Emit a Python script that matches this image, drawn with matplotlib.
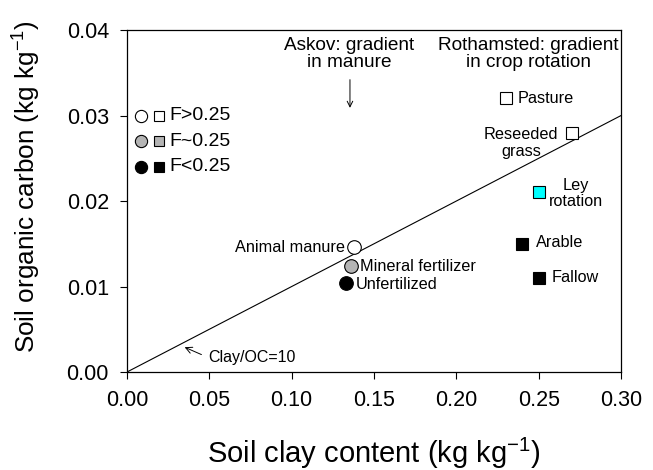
import matplotlib
matplotlib.use("Agg")
import matplotlib.pyplot as plt
import numpy as np

plt.rcParams["font.family"] = ["Liberation Sans", "DejaVu Sans"]

# Askov: gradient in manure (circles)
askov_names = ["Animal manure", "Mineral fertilizer", "Unfertilized"]
askov_clay = [0.138, 0.136, 0.133]
askov_oc = [0.0146, 0.0124, 0.0104]
askov_fill = ["white", "#b4b4b4", "black"]

# Rothamsted: gradient in crop rotation (squares)
roth_names = ["Pasture", "Reseeded\ngrass", "Ley\nrotation", "Arable", "Fallow"]
roth_clay = [0.23, 0.27, 0.25, 0.24, 0.25]
roth_oc = [0.032, 0.028, 0.021, 0.015, 0.011]
roth_fill = ["white", "white", "cyan", "black", "black"]

# key in upper left
key_labels = ["F>0.25", "F~0.25", "F<0.25"]
key_fill = ["white", "#b4b4b4", "black"]
key_oc = [0.030, 0.027, 0.024]

fig = plt.figure(figsize=(6.53, 4.70), dpi=100)
ax = fig.add_axes([0.1945, 0.2085, 0.7565, 0.7275])

# Clay/OC = 10 line
line_x = np.array([0.0, 0.30])
ax.plot(line_x, line_x / 10, color="black", lw=0.8, zorder=1)

for x, y, c in zip(askov_clay, askov_oc, askov_fill):
    ax.plot(x, y, "o", ms=9.8, mfc=c, mec="black", mew=0.8, zorder=3)
for x, y, c in zip(roth_clay, roth_oc, roth_fill):
    ax.plot(x, y, "s", ms=8, mfc=c, mec="black", mew=0.8, zorder=3)

for y, c, lab in zip(key_oc, key_fill, key_labels):
    ax.plot(0.0088, y, "o", ms=8.8, mfc=c, mec="black", mew=0.8)
    ax.plot(0.0194, y, "s", ms=6.6, mfc=c, mec="black", mew=0.8)
    ax.text(0.0255, y, lab, fontsize=14, va="center", ha="left")

fs = 11.7
ax.text(0.1324, 0.0146, askov_names[0], fontsize=fs, ha="right", va="center")
ax.text(0.1412, 0.0124, askov_names[1], fontsize=fs, ha="left", va="center")
ax.text(0.1390, 0.0102, askov_names[2], fontsize=fs, ha="left", va="center")

ax.text(0.2374, 0.032, roth_names[0], fontsize=fs, ha="left", va="center")
ax.text(0.2393, 0.0268, roth_names[1], fontsize=fs, ha="center", va="center",
        multialignment="center", linespacing=1.1)
ax.text(0.2727, 0.0209, roth_names[2], fontsize=fs, ha="center", va="center",
        multialignment="center", linespacing=1.05)
ax.text(0.2484, 0.0151, roth_names[3], fontsize=fs, ha="left", va="center")
ax.text(0.2581, 0.0111, roth_names[4], fontsize=fs, ha="left", va="center")

tfs = 13.7
ax.text(0.1348, 0.0372, "Askov: gradient\nin manure", fontsize=tfs, ha="center",
        va="center", multialignment="center", linespacing=1.0)
ax.text(0.2438, 0.0372, "Rothamsted: gradient\nin crop rotation", fontsize=tfs,
        ha="center", va="center", multialignment="center", linespacing=1.0)

ax.annotate("", xy=(0.1354, 0.0309), xytext=(0.1354, 0.0342),
            arrowprops=dict(arrowstyle="->", color="black", lw=0.7,
                            shrinkA=0, shrinkB=0))
ax.annotate("Clay/OC=10", xy=(0.035, 0.0029), xytext=(0.0492, 0.0017),
            fontsize=11.5, ha="left", va="center",
            arrowprops=dict(arrowstyle="->", color="black", lw=0.7,
                            shrinkA=3, shrinkB=0, relpos=(0, 0.5)))

ax.set_xlim(0, 0.30)
ax.set_ylim(0, 0.04)
ax.set_xticks(np.arange(0, 0.301, 0.05))
ax.set_yticks(np.arange(0, 0.041, 0.01))
ax.set_xticklabels(["%.2f" % v for v in np.arange(0, 0.301, 0.05)])
ax.set_yticklabels(["%.2f" % v for v in np.arange(0, 0.041, 0.01)])
ax.tick_params(direction="out", length=5, width=0.8, labelsize=15.5, pad=8)
for s in ax.spines.values():
    s.set_linewidth(0.9)

ax.set_xlabel("Soil clay content (kg kg$^{\\mathregular{-1}}$)", fontsize=21, labelpad=18)
ax.set_ylabel("Soil organic carbon (kg kg$^{\\mathregular{-1}}$)", fontsize=18.8)
ax.yaxis.set_label_coords(-0.172, 0.541)

fig.savefig("out.png", dpi=100)
